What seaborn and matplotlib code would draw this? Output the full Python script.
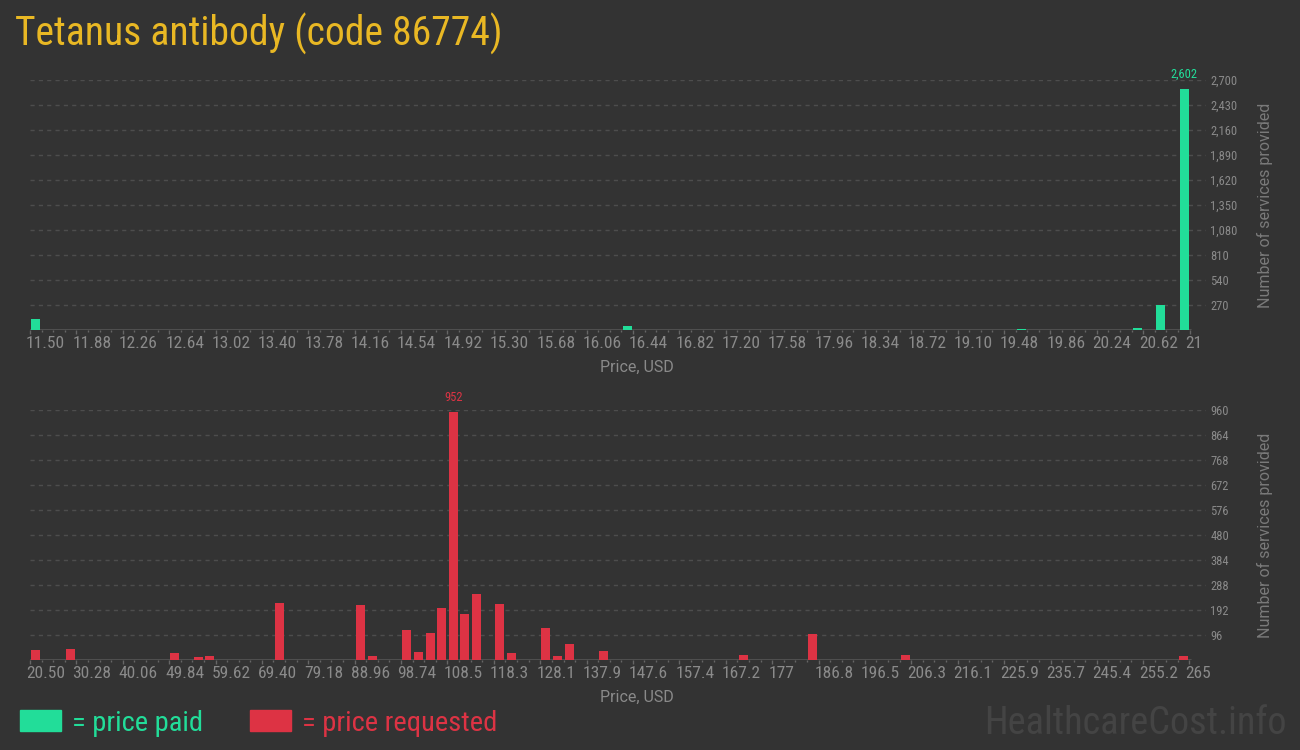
"""Price histogram chart: Tetanus antibody (code 86774)."""

import matplotlib

matplotlib.use("Agg")
import matplotlib.pyplot as plt
import matplotlib.transforms as mtransforms
from matplotlib import font_manager
from matplotlib.patches import Rectangle
from matplotlib.ticker import FixedLocator, FuncFormatter
import seaborn as sns

# --- data ------------------------------------------------------------------
paid_price = [11.545, 16.393, 19.627, 20.578, 20.766, 20.955]
paid_count = [120, 46, 14, 25, 270, 2602]

requested_price = [21.72, 29.06, 51.06, 55.95, 58.40, 73.07, 90.18, 92.63,
                   99.96, 102.41, 104.85, 107.30, 109.74, 112.19, 114.63,
                   119.52, 121.97, 129.30, 131.75, 134.19, 141.53, 170.87,
                   185.54, 205.10, 263.78]
requested_count = [38, 42, 27, 12, 15, 219, 211, 14, 115, 31, 104, 200, 952,
                   177, 253, 215, 27, 123, 14, 62, 34, 19, 100, 19, 15]

paid_xticks = ["11.50", "11.88", "12.26", "12.64", "13.02", "13.40", "13.78",
               "14.16", "14.54", "14.92", "15.30", "15.68", "16.06", "16.44",
               "16.82", "17.20", "17.58", "17.96", "18.34", "18.72", "19.10",
               "19.48", "19.86", "20.24", "20.62", "21"]
requested_xticks = ["20.50", "30.28", "40.06", "49.84", "59.62", "69.40",
                    "79.18", "88.96", "98.74", "108.5", "118.3", "128.1",
                    "137.9", "147.6", "157.4", "167.2", "177", "186.8",
                    "196.5", "206.3", "216.1", "225.9", "235.7", "245.4",
                    "255.2", "265"]
paid_yticks = [270, 540, 810, 1080, 1350, 1620, 1890, 2160, 2430, 2700]
requested_yticks = [96, 192, 288, 384, 480, 576, 672, 768, 864, 960]

# --- style -------------------------------------------------------------------
W, H = 1300, 750
BG = "#333333"
GREEN = "#22dd99"
RED = "#dd3344"
GOLD = "#e9b824"
TICK_GREY = "#8a8a8a"
LABEL_GREY = "#7a7a7a"
GRID = "#4d4d4d"

sns.set_theme(style="dark", rc={"figure.facecolor": BG, "axes.facecolor": BG})

names = {f.name for f in font_manager.fontManager.ttflist}
NARROW = next((n for n in ("Roboto Condensed", "Liberation Sans Narrow")
               if n in names), None)
SCALE = 1.0 if NARROW else 0.82
NARROW_FAM = [NARROW or "Roboto", "DejaVu Sans"]
REG_FAM = ["Roboto", "DejaVu Sans"]
plt.rcParams["font.family"] = REG_FAM

# plot box in pixels: left edge, width, and the pixel where the last tick sits
BOX_LEFT, BOX_W, LAST_TICK_PX = 30, 1176, 1189.5


def draw_panel(ax, prices, counts, color, xticks, yticks, bar_px):
    """Draw one histogram panel with right-side y axis."""
    pos = [float(t) for t in xticks]
    px_per_unit = (LAST_TICK_PX - BOX_LEFT) / (pos[-1] - pos[0])
    ax.set_xlim(pos[0], pos[0] + BOX_W / px_per_unit)
    ax.set_ylim(0, yticks[-1])

    min_gap = min(b - a for a, b in zip(sorted(prices)[:-1], sorted(prices)[1:]))
    bar_w = bar_px / px_per_unit / min_gap
    sns.barplot(x=prices, y=counts, native_scale=True, orient="x", ax=ax,
                color=color, saturation=1, width=bar_w, errorbar=None,
                linewidth=0, zorder=3)

    for side in ax.spines.values():
        side.set_visible(False)
    ax.axhline(0, xmin=0, xmax=(LAST_TICK_PX + 1 - BOX_LEFT) / BOX_W,
               color="#555555", lw=1.2, zorder=2)

    # x ticks: labelled majors plus three minors in between
    ax.xaxis.set_major_locator(FixedLocator(pos))
    ax.set_xticklabels(xticks)
    minors = [a + (b - a) * j / 4 for a, b in zip(pos[:-1], pos[1:])
              for j in (1, 2, 3)]
    ax.xaxis.set_minor_locator(FixedLocator(minors))
    ax.tick_params(axis="x", which="major", bottom=True, length=3, width=1,
                   color="#666666", pad=1.5, labelcolor=TICK_GREY,
                   labelsize=12.5 * SCALE)
    ax.tick_params(axis="x", which="minor", bottom=True, length=1.5, width=1,
                   color="#666666")
    shift = mtransforms.ScaledTranslation(-4 / 100, 0, ax.figure.dpi_scale_trans)
    for lab in ax.get_xticklabels():
        lab.set_horizontalalignment("left")
        lab.set_family(NARROW_FAM)
        lab.set_transform(lab.get_transform() + shift)

    # y ticks on the right
    ax.yaxis.tick_right()
    ax.yaxis.set_major_locator(FixedLocator(yticks))
    ax.yaxis.set_major_formatter(FuncFormatter(lambda v, _: f"{v:,.0f}"))
    ax.tick_params(axis="y", length=0, pad=3, labelcolor=TICK_GREY,
                   labelsize=9 * SCALE)
    for lab in ax.get_yticklabels():
        lab.set_family(NARROW_FAM)
    ax.grid(axis="y", color=GRID, linestyle=(0, (3, 3)), linewidth=1)
    ax.grid(axis="x", visible=False)

    ax.set_xlabel("Price, USD", color=TICK_GREY, fontsize=11.5, va="center")
    ax.xaxis.set_label_coords((637 - BOX_LEFT) / BOX_W, -0.15)
    ax.yaxis.set_label_position("right")
    ax.set_ylabel("Number of services provided", color=LABEL_GREY,
                  fontsize=11.5, va="center", rotation=90)
    ax.yaxis.set_label_coords((1265 - BOX_LEFT) / BOX_W, 0.5)

    # value label over the tallest bar
    top = max(range(len(counts)), key=lambda i: counts[i])
    ax.annotate(f"{counts[top]:,}", xy=(prices[top], counts[top]),
                xytext=(0, 8), textcoords="offset pixels", ha="center",
                va="bottom", color=color, fontsize=9 * SCALE,
                family=NARROW_FAM)


fig = plt.figure(figsize=(W / 100, H / 100), dpi=100)
fig.patch.set_facecolor(BG)

ax_paid = fig.add_axes([BOX_LEFT / W, 1 - 330 / H, BOX_W / W, 250 / H])
ax_req = fig.add_axes([BOX_LEFT / W, 1 - 660 / H, BOX_W / W, 250 / H])

draw_panel(ax_paid, paid_price, paid_count, GREEN, paid_xticks, paid_yticks, 9)
draw_panel(ax_req, requested_price, requested_count, RED, requested_xticks,
           requested_yticks, 9)

fig.text(15 / W, 1 - 45.5 / H, "Tetanus antibody (code 86774)", color=GOLD,
         fontsize=28.5 * SCALE, family=NARROW_FAM, ha="left", va="baseline")

# legend
for x0, col, label in ((20, GREEN, "= price paid"), (250, RED, "= price requested")):
    fig.patches.append(Rectangle((x0 / W, 1 - 731 / H), 41 / W, 21 / H,
                                 transform=fig.transFigure, color=col))
    fig.text((x0 + 52) / W, 1 - 731 / H, label, color=col,
             fontsize=20.5 * SCALE, family=NARROW_FAM, ha="left", va="baseline")

fig.text(1287 / W, 1 - 734 / H, "HealthcareCost.info", color="#444444",
         fontsize=27.5 * SCALE, family=NARROW_FAM, ha="right", va="baseline")

fig.savefig("out.png", dpi=100, facecolor=BG)
